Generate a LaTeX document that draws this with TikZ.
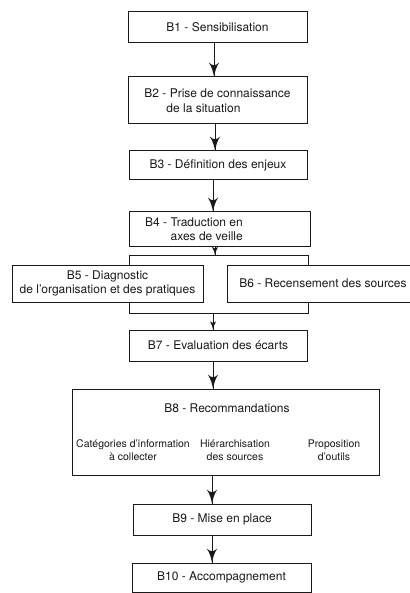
\documentclass[tikz,border=0pt]{standalone}
\usepackage{fontspec}
\setmainfont{TeX Gyre Heros}
\usepackage{tikz}
\usetikzlibrary{arrows}
\usetikzlibrary{decorations.markings}
\usetikzlibrary{positioning}
\tikzset{flow/.style = {decoration={markings,
                                    mark=at position 1 with {\arrow[scale=2.4]{latex'}}},
                        postaction={decorate}}}
\tikzset{smallflow/.style = {decoration={markings,
                                         mark=at position 1 with {\arrow[scale=1.4]{latex'}}},
                             postaction={decorate}}}
\tikzset{etape/.style = {draw, line width=1pt, inner sep=2pt, align=center,
                         font=\fontsize{12}{14.5}\selectfont}}
\tikzset{detail/.style = {align=center, inner sep=0pt,
                          font=\fontsize{10.5}{13}\selectfont}}
\definecolor{trait}{rgb}{0.1, 0.1, 0.1}

\begin{document}
\begin{tikzpicture}[x=1pt, y=-1pt, color=trait, line width=1pt]
    \useasboundingbox (0, 0) rectangle (409, 593);

    \node [etape, minimum width=179, minimum height=31] (B1) at (217.5, 27.5) {B1 - Sensibilisation};
    \node [etape, minimum width=179, minimum height=47, align=left] (B2) at (217.5, 100.5)
        {B2 - Prise de connaissance\\\hspace*{22pt}de la situation};
    \node [etape, minimum width=178, minimum height=29] (B3) at (218, 165.5) {B3 - Définition des enjeux};
    \node [etape, minimum width=181, minimum height=34] (B4) at (219.5, 229) {};
    \node [etape, draw=none, align=right] (B4txt) at (194, 229) {B4 - Traduction en\\axes de veille};

    \node [etape, minimum width=191, minimum height=37] (B5) at (107.5, 283.5)
        {B5 - Diagnostic\\de l'organisation et des pratiques};
    \node [etape, minimum width=192, minimum height=37] (B6) at (323, 283.5) {B6 - Recensement des sources};

    \node [etape, minimum width=178, minimum height=31] (B7) at (218, 345.5) {B7 - Evaluation des écarts};
    \node [etape, minimum width=307, minimum height=86] (B8) at (225.5, 432) {};
    \node [etape, draw=none] (B8txt) at (227, 408) {B8 - Recommandations};
    \node [detail] (cat) at (133, 450) {Catégories d'information\\à collecter};
    \node [detail] (hier) at (235, 450) {Hiérarchisation\\des sources};
    \node [detail] (outils) at (334, 450) {Proposition\\d'outils};
    \node [etape, minimum width=178, minimum height=31] (B9) at (222, 519.5) {B9 - Mise en place};
    \node [etape, minimum width=179, minimum height=29] (B10) at (221.5, 577.5) {B10 - Accompagnement};

    \coordinate (forkL) at (129, 255);
    \coordinate (forkR) at (308, 255);
    \coordinate (joinL) at (129, 313);
    \coordinate (joinR) at (308, 313);

    \draw [flow] ([xshift=-3.5]B1.south) -- ([xshift=-3.5]B1.south |- B2.north);
    \draw [flow] ([xshift=-2.5]B2.south) -- ([xshift=-2.5]B2.south |- B3.north);
    \draw [flow] ([xshift=-5]B3.south) -- ([xshift=-5]B3.south |- B4.north);
    \draw [smallflow] ([xshift=-4.5]B4.south) -- ([xshift=-4.5]B4.south |- forkL);

    \draw (forkL |- B5.north) -- (forkL) -- (forkR) -- (forkR |- B6.north);
    \draw (joinL |- B5.south) -- (joinL) -- (joinR) -- (joinR |- B6.south);

    \draw [smallflow] ([xshift=-5]B7.north |- joinL) -- ([xshift=-5]B7.north);
    \draw [flow] ([xshift=-5]B7.south) -- ([xshift=-5]B7.south |- B8.north);
    \draw [flow] ([xshift=-13.5]B8.south) -- ([xshift=-13.5]B8.south |- B9.north);
    \draw [flow] ([xshift=-10]B9.south) -- ([xshift=-10]B9.south |- B10.north);
  \end{tikzpicture}
\end{document}
